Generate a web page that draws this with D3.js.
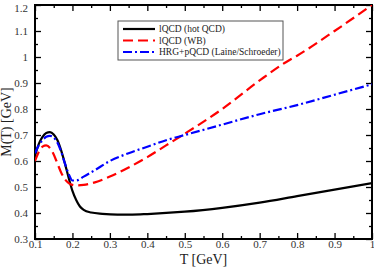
<!DOCTYPE html>
<html>
<head>
<meta charset="utf-8">
<script src="https://cdn.jsdelivr.net/npm/d3@7"></script>
<style>
 body { margin: 0; background: #fff; }
 text { font-family: "Liberation Serif", "DejaVu Serif", serif; }
</style>
</head>
<body>
<div id="chart"></div>
<script>
 //series values
 var hotT = [0.1, 0.11, 0.12, 0.13, 0.14, 0.15, 0.16, 0.17, 0.18, 0.19, 0.2, 0.21, 0.22, 0.23, 0.25, 0.28, 0.32, 0.36, 0.4, 0.5, 0.6, 0.7, 0.8, 0.9, 1.0];
 var hotM = [0.62, 0.665, 0.693, 0.708, 0.711, 0.702, 0.68, 0.64, 0.59, 0.535, 0.485, 0.45, 0.425, 0.412, 0.402, 0.397, 0.394, 0.394, 0.396, 0.405, 0.42, 0.44, 0.465, 0.49, 0.515];

 var wbT = [0.1, 0.11, 0.12, 0.13, 0.14, 0.15, 0.16, 0.17, 0.18, 0.19, 0.2, 0.21, 0.23, 0.26, 0.3, 0.35, 0.4, 0.45, 0.5, 0.6, 0.7, 0.77, 0.8, 0.9, 1.0];
 var wbM = [0.6, 0.635, 0.655, 0.66, 0.65, 0.625, 0.59, 0.555, 0.53, 0.515, 0.508, 0.506, 0.508, 0.518, 0.54, 0.575, 0.615, 0.66, 0.705, 0.8, 0.91, 0.98, 1.005, 1.1, 1.2];

 var lsT = [0.1, 0.11, 0.12, 0.13, 0.14, 0.15, 0.16, 0.17, 0.18, 0.19, 0.2, 0.21, 0.23, 0.26, 0.3, 0.35, 0.4, 0.45, 0.5, 0.6, 0.7, 0.8, 0.9, 1.0];
 var lsM = [0.63, 0.66, 0.68, 0.693, 0.697, 0.69, 0.67, 0.635, 0.59, 0.55, 0.525, 0.525, 0.54, 0.565, 0.6, 0.63, 0.655, 0.68, 0.7, 0.74, 0.78, 0.815, 0.855, 0.895];

 var seriesNames = ["lQCD (hot QCD)", "lQCD (WB)", "HRG+pQCD (Laine/Schroeder)"];
 var xTicks = [0.1, 0.2, 0.3, 0.4, 0.5, 0.6, 0.7, 0.8, 0.9, 1];
 var yTicks = [0.3, 0.4, 0.5, 0.6, 0.7, 0.8, 0.9, 1, 1.1, 1.2];

 var margin = { left: 35, right: 2, top: 5, bottom: 29 };
 var width = 374 - margin.left - margin.right,
     height = 268 - margin.top - margin.bottom;

 var svg = d3.select("#chart")
     .append("svg")
     .attr("width", 374)
     .attr("height", 268);

 var chartGroup = svg.append("g")
     .attr("transform", "translate(" + margin.left + "," + margin.top + ")");

 var xScale = d3.scaleLinear().domain([0.1, 1]).range([0, width]);
 var yScale = d3.scaleLinear().domain([0.3, 1.2]).range([height, 0]);

 //minor ticks every 0.05
 var xMinor = d3.range(0.15, 1, 0.1);
 var yMinor = d3.range(0.35, 1.2, 0.1);

 function fmt(d) { return d3.format("")(+d.toFixed(2)); }

 //bottom axis with labels, ticks inward
 chartGroup.append("g")
     .attr("class", "axis_x")
     .attr("transform", "translate(0," + height + ")")
     .call(d3.axisBottom(xScale).tickValues(xTicks).tickSize(-6).tickPadding(1).tickFormat(fmt));
 chartGroup.append("g")
     .attr("transform", "translate(0," + height + ")")
     .call(d3.axisBottom(xScale).tickValues(xMinor).tickSize(-3).tickFormat(""));
 //top axis
 chartGroup.append("g")
     .call(d3.axisTop(xScale).tickValues(xTicks).tickSize(-6).tickFormat(""));
 chartGroup.append("g")
     .call(d3.axisTop(xScale).tickValues(xMinor).tickSize(-3).tickFormat(""));

 //left axis
 chartGroup.append("g")
     .attr("class", "axis_y")
     .call(d3.axisLeft(yScale).tickValues(yTicks).tickSize(-6).tickPadding(7).tickFormat(fmt));
 chartGroup.append("g")
     .call(d3.axisLeft(yScale).tickValues(yMinor).tickSize(-3).tickFormat(""));
 //right axis
 chartGroup.append("g")
     .attr("transform", "translate(" + width + ",0)")
     .call(d3.axisRight(yScale).tickValues(yTicks).tickSize(-6).tickFormat(""));
 chartGroup.append("g")
     .attr("transform", "translate(" + width + ",0)")
     .call(d3.axisRight(yScale).tickValues(yMinor).tickSize(-3).tickFormat(""));

 chartGroup.selectAll(".domain").remove();
 chartGroup.selectAll(".tick line").attr("stroke", "#000").attr("stroke-width", 1.3);
 chartGroup.selectAll(".tick text")
     .attr("font-size", "11px")
     .attr("font-family", "Liberation Serif, serif")
     .attr("fill", "#333");
 //keep the top label inside the picture
 chartGroup.select(".axis_y").selectAll(".tick text")
     .filter(function (d) { return d === 1.2; })
     .attr("dy", "0.55em");

 //frame
 chartGroup.append("rect")
     .attr("width", width)
     .attr("height", height)
     .attr("fill", "none")
     .attr("stroke", "#000")
     .attr("stroke-width", 2);

 //lines
 var line = d3.line()
     .x(function (d) { return xScale(d[0]); })
     .y(function (d) { return yScale(d[1]); })
     .curve(d3.curveMonotoneX);

 var series = [
     { name: seriesNames[0], data: d3.zip(hotT, hotM), color: "#000", dash: null },
     { name: seriesNames[1], data: d3.zip(wbT, wbM), color: "#f00", dash: "10,5" },
     { name: seriesNames[2], data: d3.zip(lsT, lsM), color: "#00f", dash: "9,3,2,3" }
 ];

 chartGroup.append("defs").append("clipPath").attr("id", "clip")
     .append("rect").attr("width", width).attr("height", height);

 chartGroup.selectAll(".series")
     .data(series)
     .enter()
     .append("path")
     .attr("class", "series")
     .attr("clip-path", "url(#clip)")
     .attr("fill", "none")
     .attr("stroke", function (d) { return d.color; })
     .attr("stroke-width", 2.2)
     .attr("stroke-dasharray", function (d) { return d.dash; })
     .attr("d", function (d) { return line(d.data); });

 //legend
 var legend = chartGroup.append("g")
     .attr("transform", "translate(" + (118 - margin.left) + "," + (21 - margin.top) + ")");
 legend.append("rect")
     .attr("width", 165)
     .attr("height", 39)
     .attr("fill", "#fff")
     .attr("stroke", "#555")
     .attr("stroke-width", 1);
 var items = legend.selectAll(".item")
     .data(series)
     .enter()
     .append("g")
     .attr("transform", function (d, i) { return "translate(0," + (8 + i * 11.5) + ")"; });
 items.append("line")
     .attr("x1", 5).attr("x2", 37)
     .attr("stroke", function (d) { return d.color; })
     .attr("stroke-width", 2.2)
     .attr("stroke-dasharray", function (d) { return d.dash; });
 items.append("text")
     .attr("x", 41)
     .attr("dy", "0.35em")
     .attr("font-size", "9.5px")
     .attr("fill", "#222")
     .text(function (d) { return d.name; });

 //axis titles
 chartGroup.append("text")
     .attr("x", width / 2)
     .attr("y", height + 25)
     .attr("text-anchor", "middle")
     .attr("font-size", "14px")
     .attr("fill", "#222")
     .text("T [GeV]");
 chartGroup.append("text")
     .attr("transform", "translate(-24," + (height / 2) + ") rotate(-90)")
     .attr("text-anchor", "middle")
     .attr("font-size", "14px")
     .attr("fill", "#222")
     .text("M(T) [GeV]");
</script>
</body>
</html>
